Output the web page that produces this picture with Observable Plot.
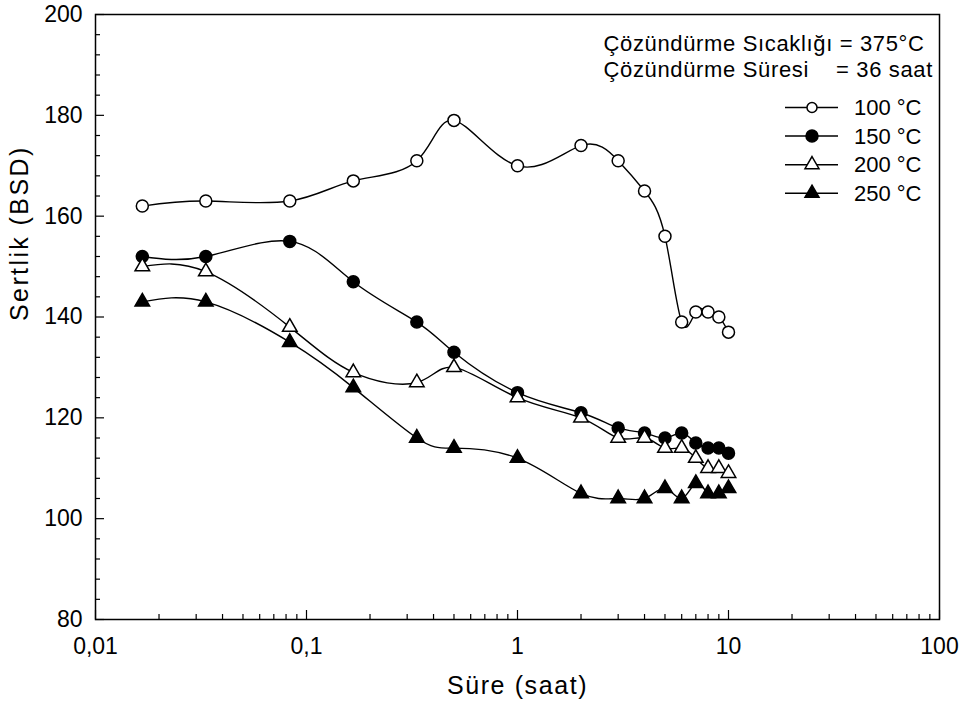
<!DOCTYPE html>
<html>
<head>
<meta charset="utf-8">
<script src="https://cdn.jsdelivr.net/npm/d3@7"></script>
<script src="https://cdn.jsdelivr.net/npm/@observablehq/plot@0.6"></script>
<style>
  html, body { margin: 0; padding: 0; background: #fff; }
  svg text { white-space: pre; }
</style>
</head>
<body>
<div id="chart"></div>
<script>
// Aging time (hours): 1, 2, 5, 10, 20, 30 min, then 1–10 h
const times = [1/60, 2/60, 5/60, 10/60, 20/60, 30/60, 1, 2, 3, 4, 5, 6, 7, 8, 9, 10];

// Hardness (BSD) per aging temperature
const h100 = [162, 163, 163, 167, 171, 179, 170, 174, 171, 165, 156, 139, 141, 141, 140, 137];
const h150 = [152, 152, 155, 147, 139, 133, 125, 121, 118, 117, 116, 117, 115, 114, 114, 113];
const h200 = [150, 149, 138, 129, 127, 130, 124, 120, 116, 116, 114, 114, 112, 110, 110, 109];
const h250 = [143, 143, 135, 126, 116, 114, 112, 105, 104, 104, 106, 104, 107, 105, 105, 106];

const seriesNames = ["100 °C", "150 °C", "200 °C", "250 °C"];
const seriesValues = [h100, h150, h200, h250];
const seriesSymbols = ["circle", "circle", "triangle", "triangle"];
const seriesFills = ["white", "black", "white", "black"];

// Axis ticks and labels
const xMajor = [0.01, 0.1, 1, 10, 100];
const xTickLabels = ["0,01", "0,1", "1", "10", "100"];
const yMajor = [80, 100, 120, 140, 160, 180, 200];
const yTickLabels = ["80", "100", "120", "140", "160", "180", "200"];
const xMinor = [0.01, 0.1, 1, 10].flatMap(d => [2, 3, 4, 5, 6, 7, 8, 9].map(k => k * d));
const yMinor = d3.range(84, 200, 4).filter(v => v % 20 !== 0);

const xLabel = "Süre (saat)";
const yLabel = "Sertlik (BSD)";
const noteLine1 = "Çözündürme Sıcaklığı = 375°C";
const noteLine2 = "Çözündürme Süresi    = 36 saat";

const W = 965, H = 716;
const M = {left: 95, right: 26, top: 14, bottom: 97};
const plotW = W - M.left - M.right;
const plotH = H - M.top - M.bottom;
const font = "'Liberation Sans', Arial, sans-serif";

const rows = seriesNames.flatMap((name, s) =>
  times.map((t, i) => ({series: name, s, t, v: seriesValues[s][i]})));

const marks = [];
seriesNames.forEach((name, s) => {
  const d = rows.filter(r => r.s === s);
  marks.push(Plot.line(d, {x: "t", y: "v", curve: "natural", stroke: "black", strokeWidth: 1.4}));
  marks.push(Plot.dot(d, {
    x: "t", y: "v",
    symbol: () => seriesSymbols[s],
    r: seriesSymbols[s] === "circle" ? 6 : 5.4,
    fill: seriesFills[s], stroke: "black", strokeWidth: 1.5
  }));
});

const chart = Plot.plot({
  width: W, height: H,
  marginLeft: M.left, marginRight: M.right, marginTop: M.top, marginBottom: M.bottom,
  style: {fontFamily: font, fontSize: "23px", color: "black", background: "white"},
  x: {type: "log", domain: [0.01, 100]},
  y: {domain: [80, 200]},
  marks: [
    // inward ticks on the left and bottom edges
    Plot.tickY(yMinor, {y: d => d, insetRight: plotW - 5, stroke: "black", strokeWidth: 1.2}),
    Plot.tickY(yMajor, {y: d => d, insetRight: plotW - 9, stroke: "black", strokeWidth: 1.2}),
    Plot.tickX(xMinor, {x: d => d, insetTop: plotH - 5, stroke: "black", strokeWidth: 1.2}),
    Plot.tickX(xMajor, {x: d => d, insetTop: plotH - 9, stroke: "black", strokeWidth: 1.2}),
    Plot.axisX({ticks: xMajor, tickFormat: d => xTickLabels[xMajor.indexOf(d)], tickSize: 0, tickPadding: 18, label: null, fontSize: 23}),
    Plot.axisY({ticks: yMajor, tickFormat: d => yTickLabels[yMajor.indexOf(d)], tickSize: 0, tickPadding: 13, label: null, fontSize: 23}),
    ...marks,
    Plot.frame({stroke: "black", strokeWidth: 1.5}),
    Plot.text([xLabel], {frameAnchor: "bottom", dy: 74, fontSize: 25}),
    Plot.text([yLabel], {frameAnchor: "left", rotate: -90, dx: -76, dy: 4, fontSize: 25}),
    Plot.text([noteLine1], {frameAnchor: "top-right", textAnchor: "start", lineAnchor: "middle", dx: -336, dy: 29, fontSize: 22}),
    Plot.text([noteLine2], {frameAnchor: "top-right", textAnchor: "start", lineAnchor: "middle", dx: -336, dy: 55, fontSize: 22})
  ]
});

const svg = d3.select(chart);

// Letter spacing for the axis titles and the note lines
const spacing = new Map([[xLabel, 1.6], [yLabel, 2.4], [noteLine1, 0.65], [noteLine2, 0.65]]);
svg.selectAll("text").each(function () {
  const t = this.textContent;
  if (spacing.has(t)) d3.select(this).attr("letter-spacing", spacing.get(t));
});

// Legend: sample line + marker + label for each temperature
const lg = svg.append("g").attr("transform", `translate(785, 107.5)`);
seriesNames.forEach((name, s) => {
  const row = lg.append("g").attr("transform", `translate(0, ${s * 28.6})`);
  row.append("line").attr("x1", 0).attr("x2", 53).attr("y1", 0).attr("y2", 0)
    .attr("stroke", "black").attr("stroke-width", 1.5);
  const sym = seriesSymbols[s] === "circle" ? d3.symbolCircle : d3.symbolTriangle;
  const r = s === 0 ? 5 : (seriesSymbols[s] === "circle" ? 6 : 5.2);
  row.append("path").attr("d", d3.symbol(sym, Math.PI * r * r)())
    .attr("transform", "translate(27,0)")
    .attr("fill", seriesFills[s]).attr("stroke", "black").attr("stroke-width", 1.5);
  row.append("text").attr("x", 69).attr("y", 0).attr("dy", "0.35em")
    .attr("text-anchor", "start").attr("font-family", font)
    .attr("font-size", 22).attr("fill", "black").text(name);
});

document.getElementById("chart").appendChild(chart);
</script>
</body>
</html>
